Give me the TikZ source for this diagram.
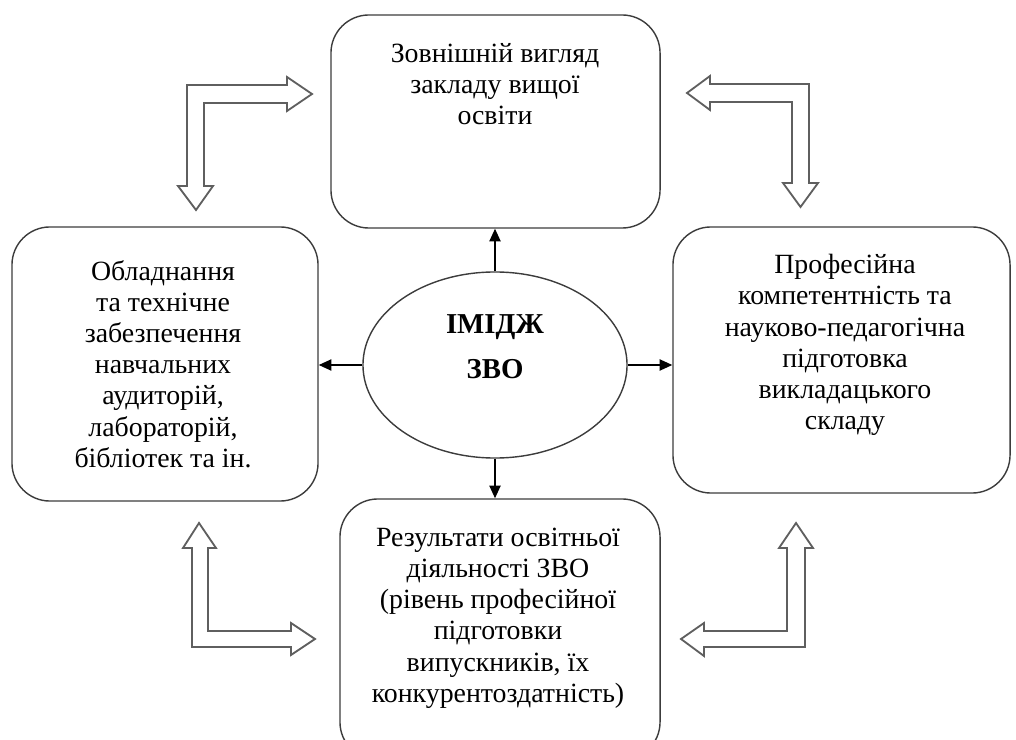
\documentclass[tikz,border=0pt]{standalone}
\usepackage{fontspec}
\setmainfont{Liberation Serif}
\usetikzlibrary{shapes.geometric, arrows.meta, positioning}
\definecolor{myframe}{RGB}{60,60,60}
\definecolor{mygrey}{RGB}{95,95,95}
\tikzset{
  box/.style={rectangle, draw=myframe, line width=1pt,
    rounded corners=0.95cm, inner sep=0pt},
  txt/.style={align=center, inner sep=0pt,
    font=\fontsize{19.8}{22}\selectfont},
  arrow/.style={-{Triangle[length=9pt,width=8pt]}, line width=1pt, color=black},
  hollow/.style={draw=mygrey, line width=1.3pt, fill=white, line join=miter}
}

\begin{document}
\begin{tikzpicture}[x=0.025cm, y=-0.025cm]
  \useasboundingbox (0,0) rectangle (1016,740);
  \clip (0,0) rectangle (1016,740);

  % Boxes
  \node[box, minimum width=8.225cm, minimum height=5.325cm] (top) at (495.5,121.5) {};
  \node[box, minimum width=7.65cm, minimum height=6.85cm] (lft) at (165,364) {};
  \node[box, minimum width=8.425cm, minimum height=6.65cm] (rgt) at (841.5,360) {};
  \node[box, minimum width=8cm, minimum height=6.525cm] (bot) at (500,629.5) {};

  % Centre
  \node[ellipse, draw=myframe, line width=1pt, minimum width=6.6cm, minimum height=4.65cm] (ell) at (495,365) {};
  \node[txt, font=\fontsize{20.5}{32}\selectfont\bfseries] (elltxt) at (495,347) {ІМІДЖ\\ЗВО};

  % Texts
  \node[txt] (toptxt) at (495,84) {Зовнішній вигляд\\закладу вищої\\освіти};
  \node[txt, font=\fontsize{19.8}{22.2}\selectfont] (lfttxt) at (163,364) {Обладнання\\та технічне\\забезпечення\\навчальних\\аудиторій,\\лабораторій,\\бібліотек та ін.};
  \node[txt, font=\fontsize{19.8}{22.2}\selectfont] (rgttxt) at (845,345) {Професійна\\компетентність та\\науково-педагогічна\\підготовка\\викладацького\\складу};
  \node[txt, font=\fontsize{19.8}{22.2}\selectfont] (bottxt) at (498,618) {Результати освітньої\\діяльності ЗВО\\(рівень професійної\\підготовки\\випускників, їх\\конкурентоздатність)};

  % Arrows from the centre
  \draw[arrow] (ell.north) -- (ell.north |- top.south);
  \draw[arrow] (ell.south) -- (ell.south |- bot.north);
  \draw[arrow] (ell.east) -- (ell.east -| rgt.west);
  \draw[arrow] (ell.west) -- (ell.west -| lft.east);

  % Hollow corner arrows
  \draw[hollow] (312,94) -- (287,111) -- (287,103) -- (204,103) -- (204,186) -- (213,186) -- (196,210) -- (178,186) -- (187,186) -- (187,85) -- (287,85) -- (287,77) -- cycle;
  \draw[hollow] (687,93) -- (710,76) -- (710,84) -- (809,84) -- (809,183) -- (818,183) -- (800.5,207) -- (783,183) -- (792,183) -- (792,102) -- (710,102) -- (710,110) -- cycle;
  \draw[hollow] (199,523) -- (216,548) -- (208,548) -- (208,631) -- (291,631) -- (291,623) -- (315,639) -- (291,655) -- (291,647) -- (192,647) -- (192,548) -- (183,548) -- cycle;
  \draw[hollow] (796,523) -- (813,548) -- (805,548) -- (805,647) -- (704,647) -- (704,656) -- (681,639) -- (704,623) -- (704,631) -- (787,631) -- (787,548) -- (779,548) -- cycle;
\end{tikzpicture}
\end{document}
